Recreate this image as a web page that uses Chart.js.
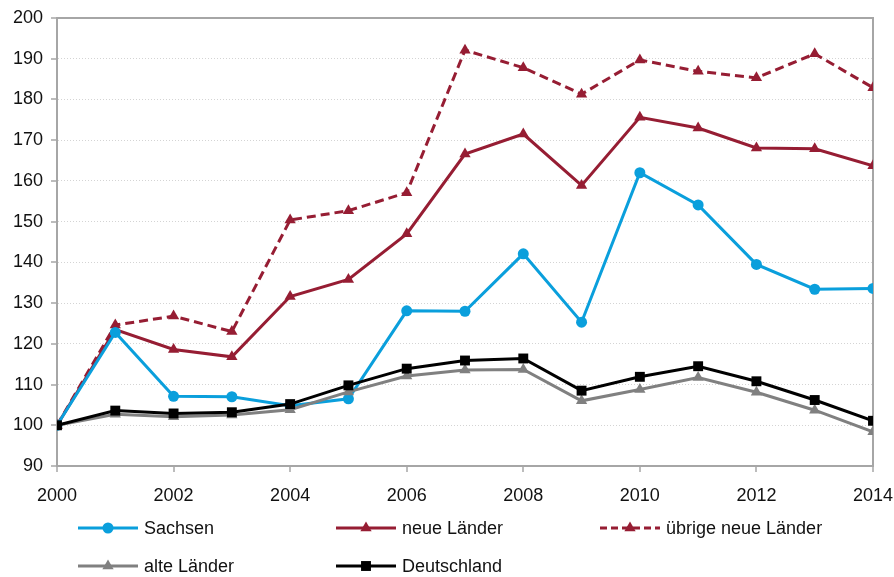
<!DOCTYPE html>
<html>
<head>
<meta charset="utf-8">
<script src="https://cdn.jsdelivr.net/npm/chart.js@4"></script>
<style>
  html, body { margin: 0; padding: 0; background: #fff; }
  #wrap { width: 894px; height: 577px; }
</style>
</head>
<body>
<div id="wrap"><canvas id="indexChart"></canvas></div>
<script>
// --- Data (Index 2000 = 100) ---
const years = [2000, 2001, 2002, 2003, 2004, 2005, 2006, 2007, 2008, 2009, 2010, 2011, 2012, 2013, 2014];
const sachsen = [100, 122.8, 107.1, 107.0, 104.8, 106.5, 128.1, 128.0, 142.1, 125.3, 162.0, 154.1, 139.5, 133.4, 133.6];
const neueLaender = [100, 123.5, 118.6, 116.8, 131.6, 135.8, 147.0, 166.6, 171.5, 158.9, 175.6, 173.0, 168.1, 167.9, 163.7];
const uebrigeNeueLaender = [100, 124.6, 126.8, 123.0, 150.4, 152.7, 157.1, 192.1, 187.8, 181.3, 189.7, 186.9, 185.3, 191.2, 182.9];
const alteLaender = [100, 102.7, 102.1, 102.5, 103.8, 108.2, 112.1, 113.6, 113.7, 106.0, 108.8, 111.7, 108.1, 103.7, 98.4];
const deutschland = [100, 103.6, 102.9, 103.2, 105.2, 109.8, 113.9, 115.9, 116.4, 108.5, 111.9, 114.5, 110.8, 106.2, 101.1];

const xTicks = [2000, 2002, 2004, 2006, 2008, 2010, 2012, 2014];
const yMin = 90, yMax = 200, yStep = 10;

const FONT = '"Liberation Sans", Arial, sans-serif';
const RED = '#961d33';
const BLUE = '#0a9fdc';
const GREY = '#808080';
const AXIS = '#a6a6a6';

const toPoints = (values) => values.map((v, i) => ({ x: years[i], y: v }));

// --- Helper: series definitions ---
const series = [
    { label: 'Deutschland', data: deutschland, color: '#000000', style: 'rect', radius: 7, dash: [], order: 0 },
    { label: 'alte Länder', data: alteLaender, color: GREY, style: 'triangle', radius: 6.5, dash: [], order: 1 },
    { label: 'Sachsen', data: sachsen, color: BLUE, style: 'circle', radius: 5.5, dash: [], order: 2 },
    { label: 'neue Länder', data: neueLaender, color: RED, style: 'triangle', radius: 6.5, dash: [], order: 3 },
    { label: 'übrige neue Länder', data: uebrigeNeueLaender, color: RED, style: 'triangle', radius: 6.5, dash: [9, 5], order: 4 }
];

const datasets = series.map(s => ({
    label: s.label,
    data: toPoints(s.data),
    borderColor: s.color,
    backgroundColor: s.color,
    borderWidth: 3,
    borderDash: s.dash,
    pointStyle: s.style,
    pointRadius: s.radius,
    pointBorderWidth: 0,
    pointBackgroundColor: s.color,
    tension: 0,
    order: s.order
}));

// legend layout: [label, column, row]
const legendLayout = [
    ['Sachsen', 0, 0], ['neue Länder', 1, 0], ['übrige neue Länder', 2, 0],
    ['alte Länder', 0, 1], ['Deutschland', 1, 1]
];
const legendCols = [78, 336, 600];
const legendRows = [528, 566];

// --- Frame, tick marks and legend plugin ---
const framePlugin = {
    id: 'frame',
    beforeDatasetsDraw(chart) {
        const { ctx, chartArea: a, scales: { x, y } } = chart;
        ctx.save();
        ctx.strokeStyle = AXIS;
        ctx.lineWidth = 2;
        ctx.beginPath();
        ctx.moveTo(a.left, a.top);
        ctx.lineTo(a.right, a.top);
        ctx.lineTo(a.right, a.bottom);
        ctx.stroke();

        ctx.lineWidth = 1.5;
        ctx.beginPath();
        x.ticks.forEach(t => {
            const px = Math.round(x.getPixelForValue(t.value));
            ctx.moveTo(px, a.bottom);
            ctx.lineTo(px, a.bottom + 6);
        });
        y.ticks.forEach(t => {
            const py = Math.round(y.getPixelForValue(t.value));
            ctx.moveTo(a.left - 6, py);
            ctx.lineTo(a.left, py);
        });
        ctx.stroke();
        ctx.restore();
    },
    afterDraw(chart) {
        const ctx = chart.ctx;
        ctx.save();
        ctx.font = '18px ' + FONT;
        ctx.textBaseline = 'middle';
        ctx.textAlign = 'left';
        legendLayout.forEach(([label, col, row]) => {
            const s = series.find(d => d.label === label);
            const x0 = legendCols[col], yy = legendRows[row];
            ctx.strokeStyle = s.color;
            ctx.fillStyle = s.color;
            ctx.lineWidth = 3;
            ctx.setLineDash(s.dash.length ? [7, 4] : []);
            ctx.beginPath();
            ctx.moveTo(x0, yy);
            ctx.lineTo(x0 + 60, yy);
            ctx.stroke();
            ctx.setLineDash([]);
            Chart.helpers.drawPoint(ctx, { pointStyle: s.style, radius: s.radius, rotation: 0, borderWidth: 0 }, x0 + 30, yy);
            ctx.fillStyle = '#111';
            ctx.fillText(label, x0 + 66, yy + 1);
        });
        ctx.restore();
    }
};

// --- Render Chart ---
const ctx = document.getElementById('indexChart').getContext('2d');
new Chart(ctx, {
    type: 'line',
    data: { datasets: datasets },
    options: {
        responsive: true,
        maintainAspectRatio: false,
        animation: false,
        layout: { padding: { top: 18, right: 21, bottom: 72, left: 0 } },
        plugins: { legend: { display: false }, tooltip: { enabled: false } },
        scales: {
            x: {
                type: 'linear',
                min: years[0],
                max: years[years.length - 1],
                afterBuildTicks: (scale) => { scale.ticks = xTicks.map(v => ({ value: v })); },
                afterFit: (scale) => {
                    scale.height = 39;
                    scale.paddingLeft = 0;
                    scale.paddingRight = 0;
                },
                grid: { display: false },
                border: { display: true, color: AXIS, width: 2 },
                ticks: {
                    color: '#111',
                    font: { family: FONT, size: 18 },
                    padding: 11,
                    maxRotation: 0,
                    callback: (v) => String(v)
                }
            },
            y: {
                min: yMin,
                max: yMax,
                afterFit: (scale) => {
                    scale.width = 57;
                    scale.paddingTop = 0;
                    scale.paddingBottom = 0;
                },
                grid: { color: '#d4d4d4', lineWidth: 1, drawTicks: false },
                border: { display: true, color: AXIS, width: 2, dash: [1, 2] },
                ticks: {
                    stepSize: yStep,
                    color: '#111',
                    font: { family: FONT, size: 18 },
                    padding: 14
                }
            }
        }
    },
    plugins: [framePlugin]
});
</script>
</body>
</html>
